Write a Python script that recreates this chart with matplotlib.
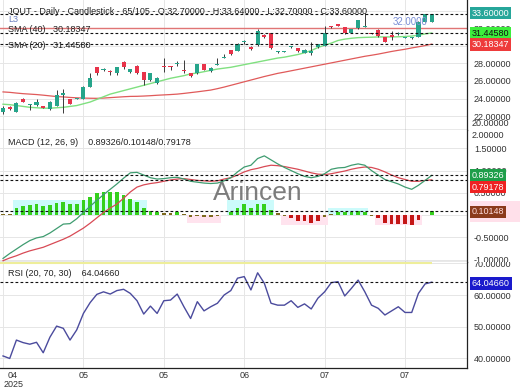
import matplotlib
matplotlib.use("Agg")
import matplotlib.pyplot as plt
from matplotlib.patches import Rectangle
from matplotlib.ticker import FormatStrFormatter
from matplotlib.transforms import Bbox, TransformedBbox
import numpy as np

plt.rcParams['font.family'] = ['Liberation Sans', 'DejaVu Sans']

# ---------------- data ----------------
opens = [22.5, 23.0, 22.5, 23.9, 23.28, 23.3, 23.1, 22.8, 23.2, 24.45,
         23.95, 23.95, 24.0, 25.35, 27.55, 27.2, 27.15, 26.85, 28.1, 27.05,
         27.75, 27.0, 26.1, 25.8, 27.65, 27.7, 27.95, 27.15, 26.85, 26.85,
         27.9, 27.1, 27.85, 28.6, 29.5, 29.4, 30.4, 29.9, 30.05, 31.1,
         31.4, 29.28, 29.3, 29.85, 29.7, 29.2, 29.2, 29.8, 30.0, 32.2,
         32.4, 32.1, 31.45, 32.0, 32.15, 31.42, 31.8, 30.95, 31.2, 31.3,
         30.93, 30.88, 31.0, 32.75, 32.7]
highs = [23.1, 23.1, 23.55, 24.1, 23.35, 24.0, 23.2, 23.7, 25.0, 25.1,
         24.0, 24.1, 25.4, 26.9, 27.6, 27.45, 27.2, 27.6, 28.25, 27.4,
         27.8, 27.05, 26.9, 26.4, 28.55, 27.75, 28.3, 28.35, 26.9, 27.95,
         27.95, 27.55, 28.65, 29.1, 29.55, 30.3, 30.65, 29.95, 31.85, 31.3,
         31.45, 29.45, 29.45, 30.0, 29.75, 29.6, 30.4, 30.25, 32.2, 32.25,
         32.5, 32.15, 31.95, 32.95, 33.7, 31.5, 31.85, 31.0, 31.7, 31.6,
         31.05, 31.0, 32.8, 33.65, 33.64]
lows = [22.2, 22.75, 22.45, 23.55, 22.75, 23.2, 22.9, 22.75, 23.1, 22.4,
        23.35, 23.9, 23.95, 25.3, 26.7, 27.15, 26.7, 26.7, 27.4, 26.85,
        26.8, 25.55, 26.0, 25.7, 27.05, 27.2, 27.65, 26.9, 26.45, 26.8,
        27.2, 27.0, 27.85, 28.55, 29.0, 29.35, 30.2, 29.5, 30.0, 30.9,
        29.65, 29.2, 29.25, 29.7, 29.3, 29.15, 28.95, 29.75, 29.95, 32.0,
        32.2, 31.35, 31.4, 31.95, 32.1, 31.3, 31.05, 30.4, 30.65, 31.2,
        30.85, 30.8, 30.95, 32.7, 32.7]
closes = [22.9, 22.8, 23.5, 23.6, 23.33, 23.65, 22.95, 23.65, 24.4, 24.6,
          23.4, 24.05, 25.35, 26.3, 26.95, 27.28, 27.0, 27.55, 27.55, 27.3,
          26.85, 26.1, 26.85, 26.3, 27.55, 27.55, 28.0, 27.1, 26.55, 27.9,
          27.25, 27.5, 27.9, 28.65, 29.05, 30.25, 30.48, 29.68, 31.7, 31.05,
          29.7, 29.32, 29.33, 29.9, 29.35, 29.55, 29.45, 30.2, 31.4, 32.15,
          32.3, 31.4, 31.9, 32.9, 32.2, 31.38, 31.1, 30.45, 30.95, 31.35,
          30.97, 30.92, 32.7, 33.6, 33.6]
sma20 = [23.35, 23.3, 23.2, 23.1, 23.0, 22.95, 22.9, 22.9, 22.95, 23.0,
         23.1, 23.2, 23.4, 23.6, 23.9, 24.2, 24.5, 24.7, 24.9, 25.1,
         25.3, 25.5, 25.7, 25.9, 26.1, 26.3, 26.45, 26.6, 26.8, 26.9,
         27.05, 27.2, 27.35, 27.45, 27.55, 27.7, 27.85, 28.0, 28.15, 28.3,
         28.45, 28.6, 28.7, 28.85, 29.0, 29.2, 29.45, 29.8, 30.05, 30.3,
         30.6, 30.75, 30.85, 30.92, 30.95, 30.97, 31.0, 31.0, 31.0, 31.02,
         31.05, 31.1, 31.2, 31.35, 31.4458]
sma40 = [24.75, 24.7, 24.62, 24.55, 24.5, 24.45, 24.38, 24.3, 24.22, 24.18,
         24.12, 24.08, 24.05, 24.03, 24.02, 24.05, 24.1, 24.15, 24.2, 24.24,
         24.25, 24.28, 24.32, 24.37, 24.41, 24.45, 24.5, 24.58, 24.67, 24.76,
         24.86, 24.96, 25.12, 25.3, 25.5, 25.7, 25.9, 26.1, 26.3, 26.5,
         26.68, 26.86, 27.0, 27.15, 27.3, 27.45, 27.6, 27.75, 27.9, 28.05,
         28.2, 28.35, 28.5, 28.65, 28.8, 28.92, 29.05, 29.2, 29.35, 29.48,
         29.6, 29.75, 29.88, 30.02, 30.18347]
macd = [-0.97, -0.86, -0.76, -0.66, -0.57, -0.51, -0.48, -0.4, -0.3, -0.2,
        -0.19, -0.08, 0.06, 0.2, 0.33, 0.46, 0.58, 0.7, 0.83, 0.95,
        0.96, 0.9, 0.84, 0.81, 0.82, 0.84, 0.85, 0.81, 0.76, 0.74,
        0.72, 0.71, 0.72, 0.77, 0.84, 0.97, 1.08, 1.12, 1.27, 1.33,
        1.24, 1.15, 1.07, 1.0, 0.93, 0.87, 0.84, 0.87, 0.93, 1.03,
        1.06, 1.07, 1.12, 1.15, 1.12, 1.0, 0.9, 0.8, 0.75, 0.7,
        0.63, 0.58, 0.67, 0.78, 0.89326]
signal = [-1.02, -0.96, -0.91, -0.85, -0.8, -0.76, -0.72, -0.66, -0.6, -0.54,
          -0.47, -0.38, -0.29, -0.18, -0.06, 0.06, 0.16, 0.25, 0.38, 0.52,
          0.63, 0.68, 0.71, 0.73, 0.76, 0.79, 0.81, 0.82, 0.8, 0.78,
          0.77, 0.76, 0.77, 0.81, 0.84, 0.9, 0.97, 1.02, 1.05, 1.09,
          1.12, 1.11, 1.09, 1.06, 1.03, 0.99, 0.95, 0.92, 0.91, 0.93,
          0.96, 0.99, 1.03, 1.06, 1.08, 1.07, 1.03, 0.97, 0.9, 0.84,
          0.8, 0.76, 0.76, 0.78, 0.79178]
hist = [0.02, 0.03, 0.15, 0.2, 0.22, 0.245, 0.21, 0.23, 0.28, 0.3,
        0.25, 0.25, 0.33, 0.41, 0.49, 0.52, 0.52, 0.51, 0.46, 0.37,
        0.3, 0.16, 0.1, 0.06, 0.05, 0.04, 0.07, 0.02, -0.04, -0.01,
        -0.03, -0.04, -0.02, 0.01, 0.07, 0.16, 0.24, 0.15, 0.26, 0.26,
        0.12, 0.04, -0.01, -0.06, -0.12, -0.14, -0.18, -0.14, -0.04, 0.03,
        0.07, 0.07, 0.07, 0.1, 0.08, -0.01, -0.065, -0.18, -0.19, -0.19,
        -0.2, -0.23, -0.1, 0.01, 0.10148]
rsi = [40.8, 40.0, 45.8, 45.0, 44.5, 45.1, 41.8, 46.7, 50.2, 49.5,
       45.8, 49.0, 54.2, 57.6, 60.2, 61.0, 60.3, 61.4, 61.8, 60.5,
       58.2, 54.0, 56.5, 54.2, 58.2, 58.4, 60.3, 56.3, 52.6, 57.9,
       55.0, 56.3, 57.4, 60.0, 61.4, 65.3, 65.8, 61.6, 67.0, 63.7,
       57.4, 56.8, 56.8, 58.2, 56.1, 57.2, 55.6, 59.0, 61.0, 63.9,
       64.2, 59.7, 62.1, 64.7, 61.0, 56.8, 55.8, 53.7, 55.0, 56.3,
       54.5, 54.5, 60.5, 63.5, 64.0466]
# histogram shading zones (first / last candle index, extent)
pos_zone_first = [2, 34, 49]
pos_zone_last = [21, 40, 54]
pos_zone_top = [0.35, 0.35, 0.16]
neg_zone_first = [28, 42, 56]
neg_zone_last = [32, 48, 62]
neg_zone_bottom = [-0.18, -0.21, -0.21]

alert_level = 32.0
rsi_upper = 70
date_tick_pos = [1.5, 12, 24, 36, 48, 60]
date_tick_labels = ["04\n2025", "05", "05", "06", "07", "07"]
grid_pos = [0, 12, 24, 36, 48, 60]

# ---------------- figure ----------------
W, H = 520, 390
fig = plt.figure(figsize=(W / 100, H / 100), dpi=100)
fig.patch.set_facecolor('white')


def add_panel(top, bottom):
    return fig.add_axes([0, 1 - bottom / H, 467 / W, (bottom - top) / H])


def ftext(px, py, s, **kw):
    kw.setdefault('va', 'center')
    kw.setdefault('ha', 'left')
    return fig.text(px / W, 1 - py / H, s, **kw)


ax1 = add_panel(0, 130)
ax2 = add_panel(130, 262)
ax3 = add_panel(262, 368)

x = np.arange(len(closes))
o = np.array(opens); c = np.array(closes); hi = np.array(highs); lo = np.array(lows)
GRID = '#e6e6e6'
FS = 6.5

for ax in (ax1, ax2, ax3):
    ax.set_xlim(-0.45, 69.25)
    ax.yaxis.tick_right()
    ax.tick_params(axis='y', length=0, pad=5, labelsize=FS, labelcolor='#333333')
    ax.tick_params(axis='x', length=0)
    ax.spines['left'].set_visible(False)
    ax.spines['top'].set_visible(False)
    ax.spines['right'].set_color('#222222')
    ax.spines['right'].set_linewidth(0.9)
    ax.spines['bottom'].set_color('#555555')
    ax.spines['bottom'].set_linewidth(0.9)
    ax.grid(axis='y', color=GRID, lw=0.7)
    ax.set_axisbelow(True)
    for gx in grid_pos:
        ax.axvline(gx, color=GRID, lw=0.7, zorder=0)
    ax.yaxis.set_major_formatter(FormatStrFormatter('%.5f'))

ax1.set_xticks([]); ax2.set_xticks([])

# ---- price panel ----
ax1.set_ylim(20.42, 35.2)
ax1.set_yticks([22, 24, 26, 28, 30, 32, 34])
ax1.axhline(alert_level, color='#e07575', lw=1.0, zorder=1)
ax1.plot(x, sma40, color='#e05a5a', lw=0.9, zorder=2)
ax1.plot(x, sma20, color='#80e080', lw=1.0, zorder=2)
GREEN = '#26a58b'; RED = '#e8334a'
cols = [GREEN if cc >= oo else RED for oo, cc in zip(o, c)]
ax1.vlines(x, lo, hi, color='#3a3a3a', lw=0.7, zorder=3)
ax1.bar(x, np.maximum(np.abs(c - o), 0.12), bottom=np.minimum(o, c), width=0.62,
        color=cols, linewidth=0, zorder=4)
for v in (closes[-1], sma20[-1], sma40[-1]):
    ax1.axhline(v, color='#111111', lw=0.8, ls=(0, (2.5, 2)), zorder=5)
ax1.text(58.1, 32.7, "32.0000", color='#7b8fd6', fontsize=7, va='center', zorder=6)

# ---- MACD panel ----
ax2.set_ylim(-1.05, 1.91)
ax2.set_yticks([-1.0, -0.5, 0.0, 0.5, 1.0, 1.5])
for a, b, t in zip(pos_zone_first, pos_zone_last, pos_zone_top):
    ax2.add_patch(Rectangle((a - 0.5, 0), b - a + 1, t, color='#ccfbfb', lw=0, zorder=1))
for a, b, t in zip(neg_zone_first, neg_zone_last, neg_zone_bottom):
    ax2.add_patch(Rectangle((a - 0.5, t), b - a + 1, -t, color='#ffe3ee', lw=0, zorder=1))
hcols = []
for v in hist:
    if v >= 0.06:
        hcols.append('#35d01c')
    elif v <= -0.06:
        hcols.append('#c41616')
    else:
        hcols.append('#7d6a1e')
ax2.bar(x, hist, width=0.55, color=hcols, linewidth=0, zorder=2)
ax2.plot(x, signal, color='#d84a55', lw=0.9, zorder=3)
ax2.plot(x, macd, color='#3f9c70', lw=0.9, zorder=3)
for v in (macd[-1], signal[-1], hist[-1]):
    ax2.axhline(v, color='#111111', lw=0.8, ls=(0, (2.5, 2)), zorder=5)

# ---- RSI panel ----
ax3.set_ylim(37.0, 70.4)
ax3.set_yticks([40, 50, 60, 70])
ax3.hlines(rsi_upper, x[0] - 0.45, x[-1], color='#eeee9a', lw=1.5, zorder=2)
ax3.plot(x, rsi, color='#4b4b9d', lw=1.0, zorder=3)
ax3.axhline(rsi[-1], color='#111111', lw=0.8, ls=(0, (2.5, 2)), zorder=5)
ax3.spines['bottom'].set_color('#222222')
ax3.set_xticks(date_tick_pos)
ax3.set_xticklabels(date_tick_labels, fontsize=FS, color='#333333', linespacing=1.0)
ax3.tick_params(axis='x', pad=2)

# clip right-hand tick labels to their own panel band (as in the reference)
for ax in (ax1, ax2, ax3):
    band = TransformedBbox(Bbox([[0, 0], [W / 467.0, 1]]), ax.transAxes)
    for lab in ax.get_yticklabels():
        lab.set_clip_on(True)
        lab.set_clip_box(band)

# ---- pinned edge tick labels ----
ftext(472, 124, "20.00000", fontsize=FS, color='#333333')
ftext(472, 135, "2.00000", fontsize=FS, color='#333333')

# ---- legend texts ----
ftext(8, 12, "JOUT - Daily - Candlestick - 65/105 - O:32.70000 - H:33.64000 - L:32.70000 - C:33.60000",
      fontsize=FS, color='#222222')
ftext(8, 19, "L3", fontsize=FS, color='#6a7fc0')
ftext(8, 30, "SMA (40)   30.18347", fontsize=FS, color='#222222')
ftext(8, 46, "SMA (20)   31.44580", fontsize=FS, color='#222222')
ftext(8, 142, "MACD (12, 26, 9)    0.89326/0.10148/0.79178", fontsize=FS, color='#222222')
ftext(8, 274, "RSI (20, 70, 30)    64.04660", fontsize=FS, color='#222222')
ftext(258, 193, "Arincen", fontsize=19, color='#666666', ha='center', alpha=0.85)

# ---- value boxes ----
fig.patches.append(Rectangle((470 / W, 1 - 222 / H), 50 / W, 21 / H, transform=fig.transFigure,
                             color='#ffe0ea', lw=0, zorder=1))
boxes = [
    (13, "33.60000", '#26a69a', 'white'),
    (33, "31.44580", '#3cee3c', '#111111'),
    (44.5, "30.18347", '#ee3b3b', 'white'),
    (175.5, "0.89326", '#1e9e4a', 'white'),
    (187, "0.79178", '#ee2222', 'white'),
    (212, "0.10148", '#8b3b1b', '#ffdcdc'),
    (283.5, "64.04660", '#1a1acc', 'white'),
]
for py, s, fc, tc in boxes:
    ftext(472, py, s, fontsize=FS, color=tc, zorder=10,
          bbox=dict(boxstyle='square,pad=0.18', fc=fc, ec='none'))

fig.savefig('out.png', dpi=100, facecolor='white')
